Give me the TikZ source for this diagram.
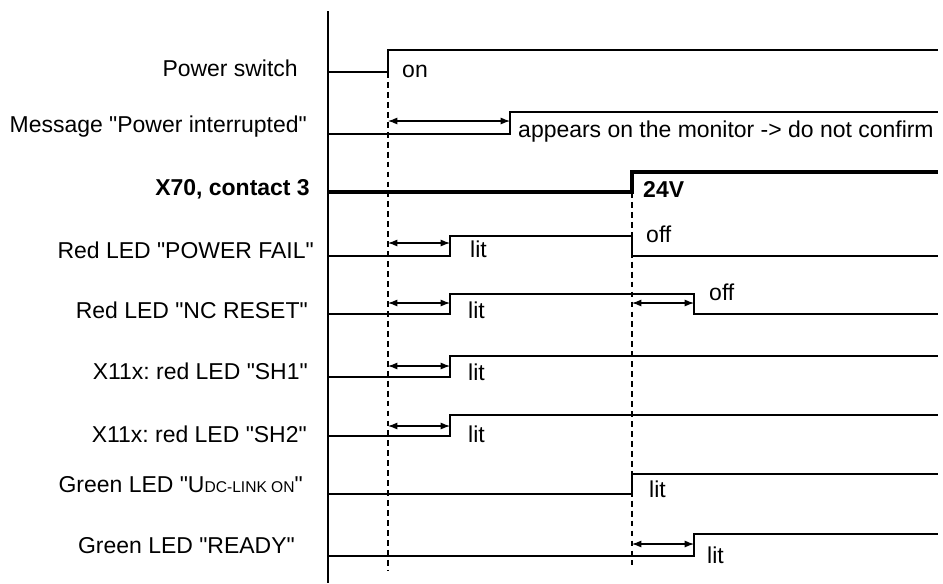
\documentclass[tikz,border=0pt]{standalone}
\usepackage{fontspec}
\setmainfont{Liberation Sans}[Ligatures=TeXOff]
\usetikzlibrary{arrows.meta}
\frenchspacing

\begin{document}
\begin{tikzpicture}[x=0.3mm, y=-0.3mm, line join=miter, font=\fontsize{19.6}{23}\selectfont, >={Latex[length=8pt,width=6pt]},
	sig/.style={line width=0.9pt},
	bus/.style={line width=3pt},
	tline/.style={line width=0.9pt, dash pattern=on 5pt off 3.5pt},
	lbl/.style={anchor=base east, inner sep=0pt},
	val/.style={anchor=base west, inner sep=0pt}]
	\useasboundingbox (0,0) rectangle (943,583);
	
	% Time marks
	\def\xa{328} \def\xs{388} \def\xp{450} \def\xm{510}
	\def\xv{632} \def\xd{694} \def\xe{938}
	
	% Axis and dashed time lines
	\draw[sig] (\xa,11) -- (\xa,583);
	\draw[tline] (\xs,72) -- (\xs,570);
	\draw[tline] (\xv,192) -- (\xv,565);
	
	% Signals
	\draw[sig] (\xa,72) -- (\xs,72) -- (\xs,50) -- (\xe,50);
	\draw[sig] (\xa,134) -- (\xm,134) -- (\xm,112) -- (\xe,112);
	\draw[bus] (\xa,192) -- (\xv,192) -- (\xv,172) -- (\xe,172);
	\draw[sig] (\xa,256) -- (\xp,256) -- (\xp,236) -- (\xv,236) -- (\xv,256) -- (\xe,256);
	\draw[sig] (\xa,314) -- (\xp,314) -- (\xp,294) -- (\xd,294) -- (\xd,314) -- (\xe,314);
	\draw[sig] (\xa,377) -- (\xp,377) -- (\xp,356) -- (\xe,356);
	\draw[sig] (\xa,436) -- (\xp,436) -- (\xp,415) -- (\xe,415);
	\draw[sig] (\xa,494) -- (\xv,494) -- (\xv,474) -- (\xe,474);
	\draw[sig] (\xa,556) -- (\xd,556) -- (\xd,534) -- (\xe,534);
	
	% Delay arrows
	\foreach \a/\b/\y in {\xs/\xm/121, \xs/\xp/243, \xs/\xp/303, \xv/\xd/303,
		\xs/\xp/366, \xs/\xp/426, \xv/\xd/544}
	\draw[sig, <->] (\a,\y) -- (\b,\y);
	
	% Signal names
	\foreach \n/\x/\y/\t in {pwr/298/76/{Power switch},
		msg/307/132/{Message "Power interrupted"},
		pfail/314/258/{Red LED "POWER FAIL"},
		ncrst/308/318/{Red LED "NC RESET"},
		shone/308/379/{X11x: red LED "SH1"},
		shtwo/307/442/{X11x: red LED "SH2"},
		udc/303/492/{Green LED "U{\fontsize{13.3}{15}\selectfont DC-LINK ON}"},
		rdy/295/553/{Green LED "READY"}}
	\node[lbl] (\n) at (\x,\y) {\t};
	\node[lbl, font=\fontsize{19.6}{23}\selectfont\bfseries] (xsev) at (310,195) {X70, contact 3};
	
	% States
	\node[val] (on) at (402,77) {on};
	\node[val] (appear) at (518,137) {appears on the monitor -> do not confirm};
	\node[val, font=\fontsize{19.6}{23}\selectfont\bfseries] (volt) at (643,197) {24V};
	\foreach \n/\x/\y/\t in {pflit/470/257/lit, pfoff/646/242/off, nclit/468/318/lit,
		ncoff/709/300/off, sholit/468/380/lit, shtlit/468/442/lit,
		udclit/649/497/lit, rdylit/707/563/lit}
	\node[val] (\n) at (\x,\y) {\t};
\end{tikzpicture}
\end{document}
